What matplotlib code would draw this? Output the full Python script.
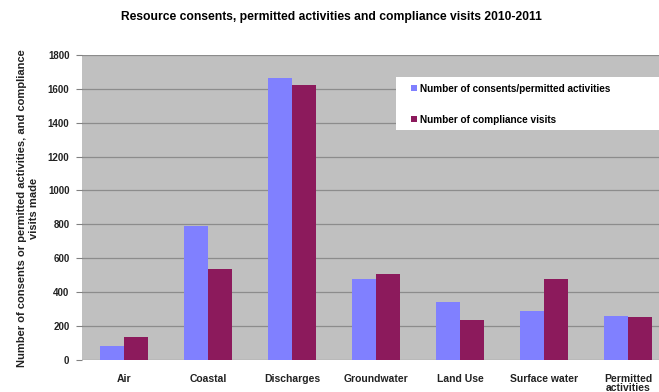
import numpy as np
import matplotlib
matplotlib.use('Agg')
import matplotlib.pyplot as plt
from matplotlib.patches import Rectangle

categories = ['Air', 'Coastal', 'Discharges', 'Groundwater', 'Land Use',
              'Surface water', 'Permitted\nactivities']
consents = [83, 790, 1665, 476, 339, 285, 256]
visits = [136, 533, 1622, 506, 232, 476, 255]
labels = ['Number of consents/permitted activities', 'Number of compliance visits']

plt.rcParams['font.family'] = ['Liberation Sans', 'DejaVu Sans']

W, H = 659, 392
fig = plt.figure(figsize=(W / 100, H / 100), dpi=100)
fig.patch.set_facecolor('white')

# plot area in pixels (right edge runs off the image)
x0, x1, ytop, ybot = 82, 670, 55, 359.7
ax = fig.add_axes([x0 / W, 1 - ybot / H, (x1 - x0) / W, (ybot - ytop) / H])
ax.set_facecolor('#c0c0c0')

x = np.arange(len(categories))
bw = 0.29
ax.bar(x - bw / 2, consents, bw, color='#8080ff', label=labels[0], zorder=3)
ax.bar(x + bw / 2, visits, bw, color='#8c1a5c', label=labels[1], zorder=3)

ax.set_xlim(-0.5, len(categories) - 0.5)
ax.set_ylim(0, 1800)
ax.set_yticks(np.arange(0, 1801, 200))
ax.yaxis.grid(True, color='#8c8c8c', linewidth=0.9, zorder=0)
for s in ax.spines.values():
    s.set_visible(False)
ax.tick_params(axis='y', length=4, width=0.8, color='#808080', labelsize=7, pad=5)
ax.tick_params(axis='x', length=0, labelsize=7.5, pad=10)
ax.set_xticks(x)
ax.set_xticklabels(categories, linespacing=0.95)
for t in ax.get_yticklabels() + ax.get_xticklabels():
    t.set_fontweight('bold')
    t.set_color('#222222')

fig.text(331 / W, 1 - 17 / H,
         'Resource consents, permitted activities and compliance visits 2010-2011',
         ha='center', va='center', fontsize=8.7, fontweight='bold')
fig.text(28 / W, 1 - 208 / H,
         'Number of consents or permitted activities, and compliance\nvisits made',
         ha='center', va='center', rotation=90, fontsize=8, fontweight='bold',
         linespacing=1.3, color='#222222')

# legend box
ax.add_patch(Rectangle((396 / W, 1 - 130 / H), (700 - 396) / W, 53 / H,
                       transform=fig.transFigure, facecolor='white',
                       edgecolor='none', zorder=4, clip_on=False))
leg = ax.legend(loc='upper left', bbox_to_anchor=(411 / W, 1 - 84 / H),
                bbox_transform=fig.transFigure, borderaxespad=0, borderpad=0,
                frameon=False, handlelength=0.55, handleheight=0.55,
                handletextpad=0.35, labelspacing=2.1,
                prop={'weight': 'bold', 'size': 7.2})
leg.set_zorder(5)

fig.savefig('out.png', dpi=100)
